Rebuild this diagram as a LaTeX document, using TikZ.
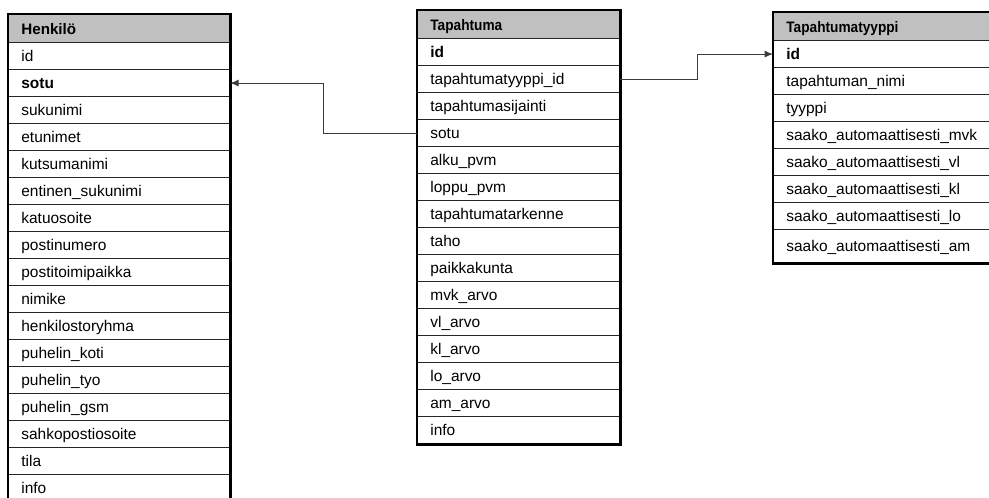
\documentclass[tikz,border=0pt]{standalone}
\usepackage{fontspec}
\setmainfont{Liberation Sans}
\usetikzlibrary{arrows.meta}
\definecolor{headgray}{RGB}{192,192,192}
\definecolor{linkgray}{RGB}{60,60,60}

\begin{document}
\begin{tikzpicture}[x=0.025cm, y=-0.025cm, >={Latex[length=6pt, width=5pt]},
    field/.style={draw=black!85, line width=0.8pt, rectangle, anchor=north west,
      minimum height=0.675cm, inner xsep=0.32cm, inner ysep=0pt, align=left,
      text height=7.9pt, text depth=0pt, font=\fontsize{11}{13}\selectfont},
    head/.style={field, fill=headgray, minimum height=0.7cm,
      font=\fontsize{10.8}{13}\selectfont\bfseries},
    border/.style={line width=2pt, line join=miter},
    link/.style={->, draw=linkgray, line width=0.7pt}]
    \useasboundingbox (0,0) rectangle (989,498);
    \clip (0,0) rectangle (989,498);

    % Henkilo table
    \node[head, text width=4.885cm] (henk-head) at (8,14) {Henkilö};
    \foreach \f [count=\i] in {id, \textbf{sotu}, sukunimi, etunimet, kutsumanimi,
        entinen\_sukunimi, katuosoite, postinumero, postitoimipaikka, nimike,
        henkilostoryhma, puhelin\_koti, puhelin\_tyo, puhelin\_gsm,
        sahkopostiosoite, tila, info}
      \node[field, text width=4.885cm] (henk-\i) at (8,{42+27*(\i-1)}) {\f};
    \draw[border] (henk-head.north west) rectangle (henk-17.south east);

    % Tapahtuma table
    \node[head, text width=4.41cm] (tap-head) at (417,10) {\scalebox{0.9}[1]{Tapahtuma}};
    \foreach \f [count=\i] in {\textbf{id}, tapahtumatyyppi\_id, tapahtumasijainti,
        sotu, alku\_pvm, loppu\_pvm, tapahtumatarkenne, taho, paikkakunta,
        mvk\_arvo, vl\_arvo, kl\_arvo, lo\_arvo, am\_arvo, info}
      \node[field, text width=4.41cm] (tap-\i) at (417,{38+27*(\i-1)}) {\f};
    \draw[border] (tap-head.north west) rectangle (tap-15.south east);

    % Tapahtumatyyppi table
    \node[head, text width=4.91cm] (tyyp-head) at (773,12) {\scalebox{0.9}[1]{Tapahtumatyyppi}};
    \foreach \f [count=\i] in {\textbf{id}, tapahtuman\_nimi, tyyppi,
        saako\_automaattisesti\_mvk, saako\_automaattisesti\_vl,
        saako\_automaattisesti\_kl, saako\_automaattisesti\_lo}
      \node[field, text width=4.91cm] (tyyp-\i) at (773,{40+27*(\i-1)}) {\f};
    \node[field, text width=4.91cm, minimum height=0.825cm] (tyyp-8) at (773,229)
      {saako\_automaattisesti\_am};
    \draw[border] (tyyp-head.north west) rectangle (tyyp-8.south east);

    % foreign keys
    \draw[link] (tap-4.west) -- ++(-94,0) |- (henk-2.east);
    \draw[link] (tap-2.east) -- ++(77,0) |- (tyyp-1.west);
\end{tikzpicture}
\end{document}
